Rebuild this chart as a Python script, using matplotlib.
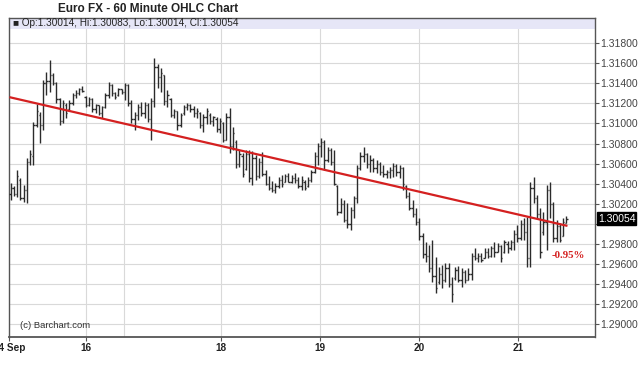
import matplotlib
matplotlib.use("Agg")
import matplotlib.pyplot as plt
from matplotlib.patches import Rectangle
from matplotlib.ticker import FixedLocator, FuncFormatter

plt.rcParams['font.family'] = ['Liberation Sans', 'DejaVu Sans']

# hourly OHLC, Euro FX, 14 Sep - 21 Sep
highs = [1.30407, 1.30377, 1.30536, 1.30457, 1.30387, 1.30656, 1.30735, 1.31014, 1.31193, 1.31113,
         1.31432, 1.31511, 1.31631, 1.31501, 1.31412, 1.31253, 1.31233, 1.31203, 1.31233, 1.31302,
         1.31332, 1.31352, 1.31372, 1.31273, 1.31263, 1.31253, 1.31193, 1.31183, 1.31173, 1.31302,
         1.31412, 1.31392, 1.31312, 1.31352, 1.31342, 1.31402, 1.31392, 1.31233, 1.31113, 1.31193,
         1.31213, 1.31213, 1.31203, 1.31253, 1.31651, 1.31591, 1.31551, 1.31482, 1.31332, 1.31253,
         1.31143, 1.31123, 1.31103, 1.31183, 1.31203, 1.31193, 1.31173, 1.31153, 1.31113, 1.31094,
         1.31153, 1.31103, 1.31074, 1.31064, 1.31054, 1.31014, 1.31103, 1.31153, 1.30964, 1.30835,
         1.30735, 1.30706, 1.30735, 1.30735, 1.30725, 1.30686, 1.30656, 1.30715, 1.30536, 1.30477,
         1.30427, 1.30407, 1.30467, 1.30487, 1.30497, 1.30507, 1.30487, 1.30507, 1.30467, 1.30477,
         1.30437, 1.30467, 1.30536, 1.30715, 1.30805, 1.30855, 1.30835, 1.30765, 1.30755, 1.30735,
         1.30387, 1.30258, 1.30238, 1.30208, 1.30168, 1.30278, 1.30586, 1.30715, 1.30765, 1.30706,
         1.30686, 1.30656, 1.30636, 1.30616, 1.30586, 1.30536, 1.30566, 1.30606, 1.30596, 1.30586,
         1.30566, 1.30387, 1.30317, 1.30238, 1.30158, 1.30059, 1.29910, 1.29820, 1.29790, 1.29840,
         1.29671, 1.29571, 1.29591, 1.29611, 1.29611, 1.29472, 1.29571, 1.29581, 1.29561, 1.29541,
         1.29561, 1.29710, 1.29760, 1.29710, 1.29710, 1.29760, 1.29760, 1.29780, 1.29820, 1.29810,
         1.29790, 1.29840, 1.29830, 1.29840, 1.29939, 1.29989, 1.30039, 1.30059, 1.30069, 1.30417,
         1.30467, 1.30288, 1.30158, 1.30118, 1.30387, 1.30417, 1.30218, 1.30039, 1.30009, 1.30059,
         1.30083]
lows = [1.30238, 1.30278, 1.30268, 1.30238, 1.30218, 1.30208, 1.30586, 1.30586, 1.30964, 1.30805,
        1.30934, 1.31283, 1.31312, 1.31382, 1.31203, 1.30984, 1.31004, 1.31054, 1.31133, 1.31183,
        1.31253, 1.31283, 1.31312, 1.31163, 1.31173, 1.31113, 1.31103, 1.31084, 1.31054, 1.31153,
        1.31253, 1.31273, 1.31243, 1.31273, 1.31293, 1.31233, 1.31173, 1.31004, 1.30934, 1.31034,
        1.31074, 1.31054, 1.31014, 1.30835, 1.31163, 1.31352, 1.31312, 1.31183, 1.31163, 1.31064,
        1.31054, 1.30934, 1.30964, 1.31084, 1.31133, 1.31113, 1.31064, 1.31054, 1.30954, 1.30914,
        1.30994, 1.30994, 1.30974, 1.30914, 1.30904, 1.30815, 1.30835, 1.30706, 1.30735, 1.30556,
        1.30566, 1.30467, 1.30536, 1.30417, 1.30387, 1.30437, 1.30457, 1.30477, 1.30387, 1.30337,
        1.30317, 1.30307, 1.30357, 1.30367, 1.30417, 1.30417, 1.30407, 1.30407, 1.30357, 1.30337,
        1.30337, 1.30367, 1.30417, 1.30507, 1.30586, 1.30666, 1.30536, 1.30616, 1.30586, 1.30387,
        1.30089, 1.30108, 1.30019, 1.29959, 1.29939, 1.30059, 1.30208, 1.30536, 1.30616, 1.30556,
        1.30516, 1.30516, 1.30507, 1.30487, 1.30467, 1.30457, 1.30457, 1.30467, 1.30477, 1.30457,
        1.30337, 1.30258, 1.30138, 1.30069, 1.29989, 1.29840, 1.29661, 1.29621, 1.29521, 1.29422,
        1.29313, 1.29402, 1.29362, 1.29422, 1.29372, 1.29223, 1.29442, 1.29422, 1.29372, 1.29412,
        1.29442, 1.29442, 1.29641, 1.29621, 1.29621, 1.29661, 1.29661, 1.29671, 1.29671, 1.29720,
        1.29621, 1.29710, 1.29710, 1.29740, 1.29740, 1.29820, 1.29840, 1.29840, 1.29571, 1.29571,
        1.30208, 1.30059, 1.29661, 1.29890, 1.29740, 1.30059, 1.29820, 1.29820, 1.29820, 1.29880,
        1.30014]
opens = [1.3030, 1.3036, 1.3030, 1.3044, 1.3026, 1.3034, 1.3062, 1.3068, 1.3098, 1.3108,
         1.3098, 1.3140, 1.3142, 1.3148, 1.3140, 1.3124, 1.3102, 1.3118, 1.3114, 1.3120,
         1.3128, 1.3130, 1.3134, 1.3126, 1.3118, 1.3124, 1.3114, 1.3118, 1.3110, 1.3116,
         1.3128, 1.3138, 1.3130, 1.3128, 1.3134, 1.3131, 1.3138, 1.3120, 1.3104, 1.3108,
         1.3116, 1.3110, 1.3118, 1.3104, 1.3122, 1.3156, 1.3146, 1.3148, 1.3122, 1.3124,
         1.3108, 1.3112, 1.3098, 1.3110, 1.3116, 1.3118, 1.3114, 1.3110, 1.3110, 1.3098,
         1.3106, 1.3108, 1.3102, 1.3104, 1.3094, 1.3100, 1.3084, 1.3106, 1.3078, 1.3082,
         1.3060, 1.3068, 1.3055, 1.3070, 1.3046, 1.3066, 1.3048, 1.3062, 1.3050, 1.3040,
         1.3036, 1.3034, 1.3038, 1.3044, 1.3042, 1.3048, 1.3042, 1.3046, 1.3044, 1.3038,
         1.3042, 1.3038, 1.3044, 1.3052, 1.3068, 1.3078, 1.3082, 1.3064, 1.3074, 1.3062,
         1.3038, 1.3012, 1.3020, 1.3004, 1.3000, 1.3014, 1.3026, 1.3056, 1.3068, 1.3070,
         1.3060, 1.3064, 1.3056, 1.3060, 1.3052, 1.3050, 1.3052, 1.3054, 1.3058, 1.3052,
         1.3056, 1.3038, 1.3028, 1.3016, 1.3010, 1.3002, 1.2988, 1.2970, 1.2968, 1.2956,
         1.2948, 1.2942, 1.2950, 1.2944, 1.2956, 1.2940, 1.2946, 1.2954, 1.2944, 1.2952,
         1.2944, 1.2950, 1.2968, 1.2966, 1.2968, 1.2966, 1.2972, 1.2968, 1.2976, 1.2972,
         1.2978, 1.2972, 1.2980, 1.2976, 1.2982, 1.2990, 1.2986, 1.3000, 1.2992, 1.2966,
         1.3036, 1.3026, 1.3010, 1.2992, 1.3002, 1.3034, 1.3020, 1.2986, 1.2998, 1.2988,
         1.30014]
closes = [1.3036, 1.3030, 1.3048, 1.3026, 1.3034, 1.3062, 1.3070, 1.3098, 1.3112, 1.3098,
          1.3140, 1.3142, 1.3148, 1.3140, 1.3124, 1.3102, 1.3120, 1.3110, 1.3120, 1.3128,
          1.3130, 1.3134, 1.3132, 1.3118, 1.3124, 1.3114, 1.3118, 1.3110, 1.3116, 1.3128,
          1.3138, 1.3130, 1.3126, 1.3134, 1.3131, 1.3138, 1.3120, 1.3104, 1.3108, 1.3116,
          1.3110, 1.3118, 1.3104, 1.3122, 1.3156, 1.3146, 1.3150, 1.3122, 1.3128, 1.3108,
          1.3112, 1.3098, 1.3108, 1.3116, 1.3118, 1.3114, 1.3110, 1.3112, 1.3098, 1.3106,
          1.3112, 1.3102, 1.3106, 1.3094, 1.3102, 1.3084, 1.3106, 1.3078, 1.3090, 1.3060,
          1.3070, 1.3050, 1.3070, 1.3046, 1.3066, 1.3048, 1.3062, 1.3050, 1.3040, 1.3036,
          1.3034, 1.3038, 1.3044, 1.3040, 1.3048, 1.3042, 1.3046, 1.3044, 1.3038, 1.3044,
          1.3036, 1.3044, 1.3052, 1.3068, 1.3078, 1.3082, 1.3064, 1.3074, 1.3062, 1.3040,
          1.3012, 1.3020, 1.3004, 1.3000, 1.3014, 1.3026, 1.3056, 1.3068, 1.3070, 1.3060,
          1.3064, 1.3056, 1.3060, 1.3052, 1.3050, 1.3052, 1.3054, 1.3058, 1.3052, 1.3056,
          1.3040, 1.3028, 1.3016, 1.3010, 1.3002, 1.2988, 1.2970, 1.2968, 1.2956, 1.2948,
          1.2936, 1.2950, 1.2944, 1.2956, 1.2940, 1.2930, 1.2954, 1.2944, 1.2952, 1.2944,
          1.2950, 1.2968, 1.2966, 1.2968, 1.2964, 1.2972, 1.2968, 1.2976, 1.2972, 1.2978,
          1.2966, 1.2982, 1.2976, 1.2982, 1.2990, 1.2986, 1.3000, 1.2992, 1.2966, 1.3036,
          1.3026, 1.3010, 1.2972, 1.3002, 1.3034, 1.3020, 1.2986, 1.2998, 1.2984, 1.3002,
          1.30054]

# trend line ends
trend_start = 1.31259
trend_end = 1.29983

day_labels = ["14 Sep", "16", "18", "19", "20", "21"]
day_starts = [-0.46, 23, 64.4, 94.7, 125.0, 155.2]
grid_days = [23, 34.6, 64.4, 94.7, 125.0, 155.2]

y_ticks = [1.290, 1.292, 1.294, 1.296, 1.298, 1.300, 1.302, 1.304,
           1.306, 1.308, 1.310, 1.312, 1.314, 1.316, 1.318]

n = len(highs)
xs = list(range(n))

fig = plt.figure(figsize=(6.4, 3.75), dpi=100)
ax = fig.add_axes([9/640, 1 - 337/375, 586/640, 319/375])

ax.set_xlim(-0.46, 178.75)
ax.set_ylim(1.28875, 1.32049)

# grid
for yv in y_ticks:
    ax.axhline(yv, color="#d9d9d9", lw=0.8, zorder=0)
for xv in grid_days:
    ax.axvline(xv, color="#d9d9d9", lw=0.8, zorder=0)

# OHLC bars
bar_col = "#2b2b2b"
ax.vlines(xs, lows, highs, color=bar_col, lw=1.0, zorder=3)
ax.hlines(opens, [x - 0.4 for x in xs], xs, color=bar_col, lw=1.0, zorder=3)
ax.hlines(closes, xs, [x + 0.4 for x in xs], color=bar_col, lw=1.0, zorder=3)

# regression line
ax.plot([0, n - 1], [trend_start, trend_end], color="#d42020", lw=1.6, zorder=4)
ax.text(n - 0.3, trend_end - 0.0030, "-0.95%", color="#d42020", fontsize=7.8,
        fontweight="bold", family=["Liberation Serif", "DejaVu Serif"],
        ha="center", va="center", zorder=5)

# header band
ax.add_patch(Rectangle((0, 1 - 11/319), 1, 11/319, transform=ax.transAxes,
                       facecolor="#e6e6f7", edgecolor="none", zorder=1))
ax.text(0.007, 1 - 5.5/319, "\u25a0 Op:1.30014, Hi:1.30083, Lo:1.30014, Cl:1.30054",
        transform=ax.transAxes, fontsize=7.2, color="#222222", va="center", ha="left",
        family=["Liberation Sans", "DejaVu Sans"], zorder=5)

ax.text(0.019, 12/319, "(c) Barchart.com", transform=ax.transAxes, fontsize=6.8,
        color="#333333", va="center", ha="left")

# axes styling
for s in ax.spines.values():
    s.set_color("#555555")
    s.set_linewidth(1.0)
ax.spines["bottom"].set_linewidth(1.3)

ax.yaxis.tick_right()
ax.yaxis.set_major_locator(FixedLocator(y_ticks))
ax.yaxis.set_major_formatter(FuncFormatter(lambda v, p: "" if abs(v - 1.300) < 1e-6 else "%.5f" % v))
ax.tick_params(axis="y", direction="out", length=3, width=0.8, colors="#555555",
               labelsize=7.5, labelcolor="#444444", pad=1)

ax.set_xticks(day_starts)
ax.set_xticklabels(day_labels, fontweight="bold", fontsize=7.2, color="#222222")
ax.tick_params(axis="x", direction="out", length=3, width=0.8, colors="#555555",
               labelcolor="#222222", pad=1.5)

# last price marker
ax.text(1.005, closes[-1], "%.5f" % closes[-1], transform=ax.get_yaxis_transform(),
        fontsize=7.5, color="white", va="center", ha="left", zorder=6, clip_on=False,
        bbox=dict(boxstyle="square,pad=0.1", facecolor="black", edgecolor="black"))

fig.text(148/640, 1 - 9/375, "Euro FX - 60 Minute OHLC Chart", fontsize=8.5,
         fontweight="bold", ha="center", va="center", color="#222222")

fig.savefig("out.png", dpi=100)
